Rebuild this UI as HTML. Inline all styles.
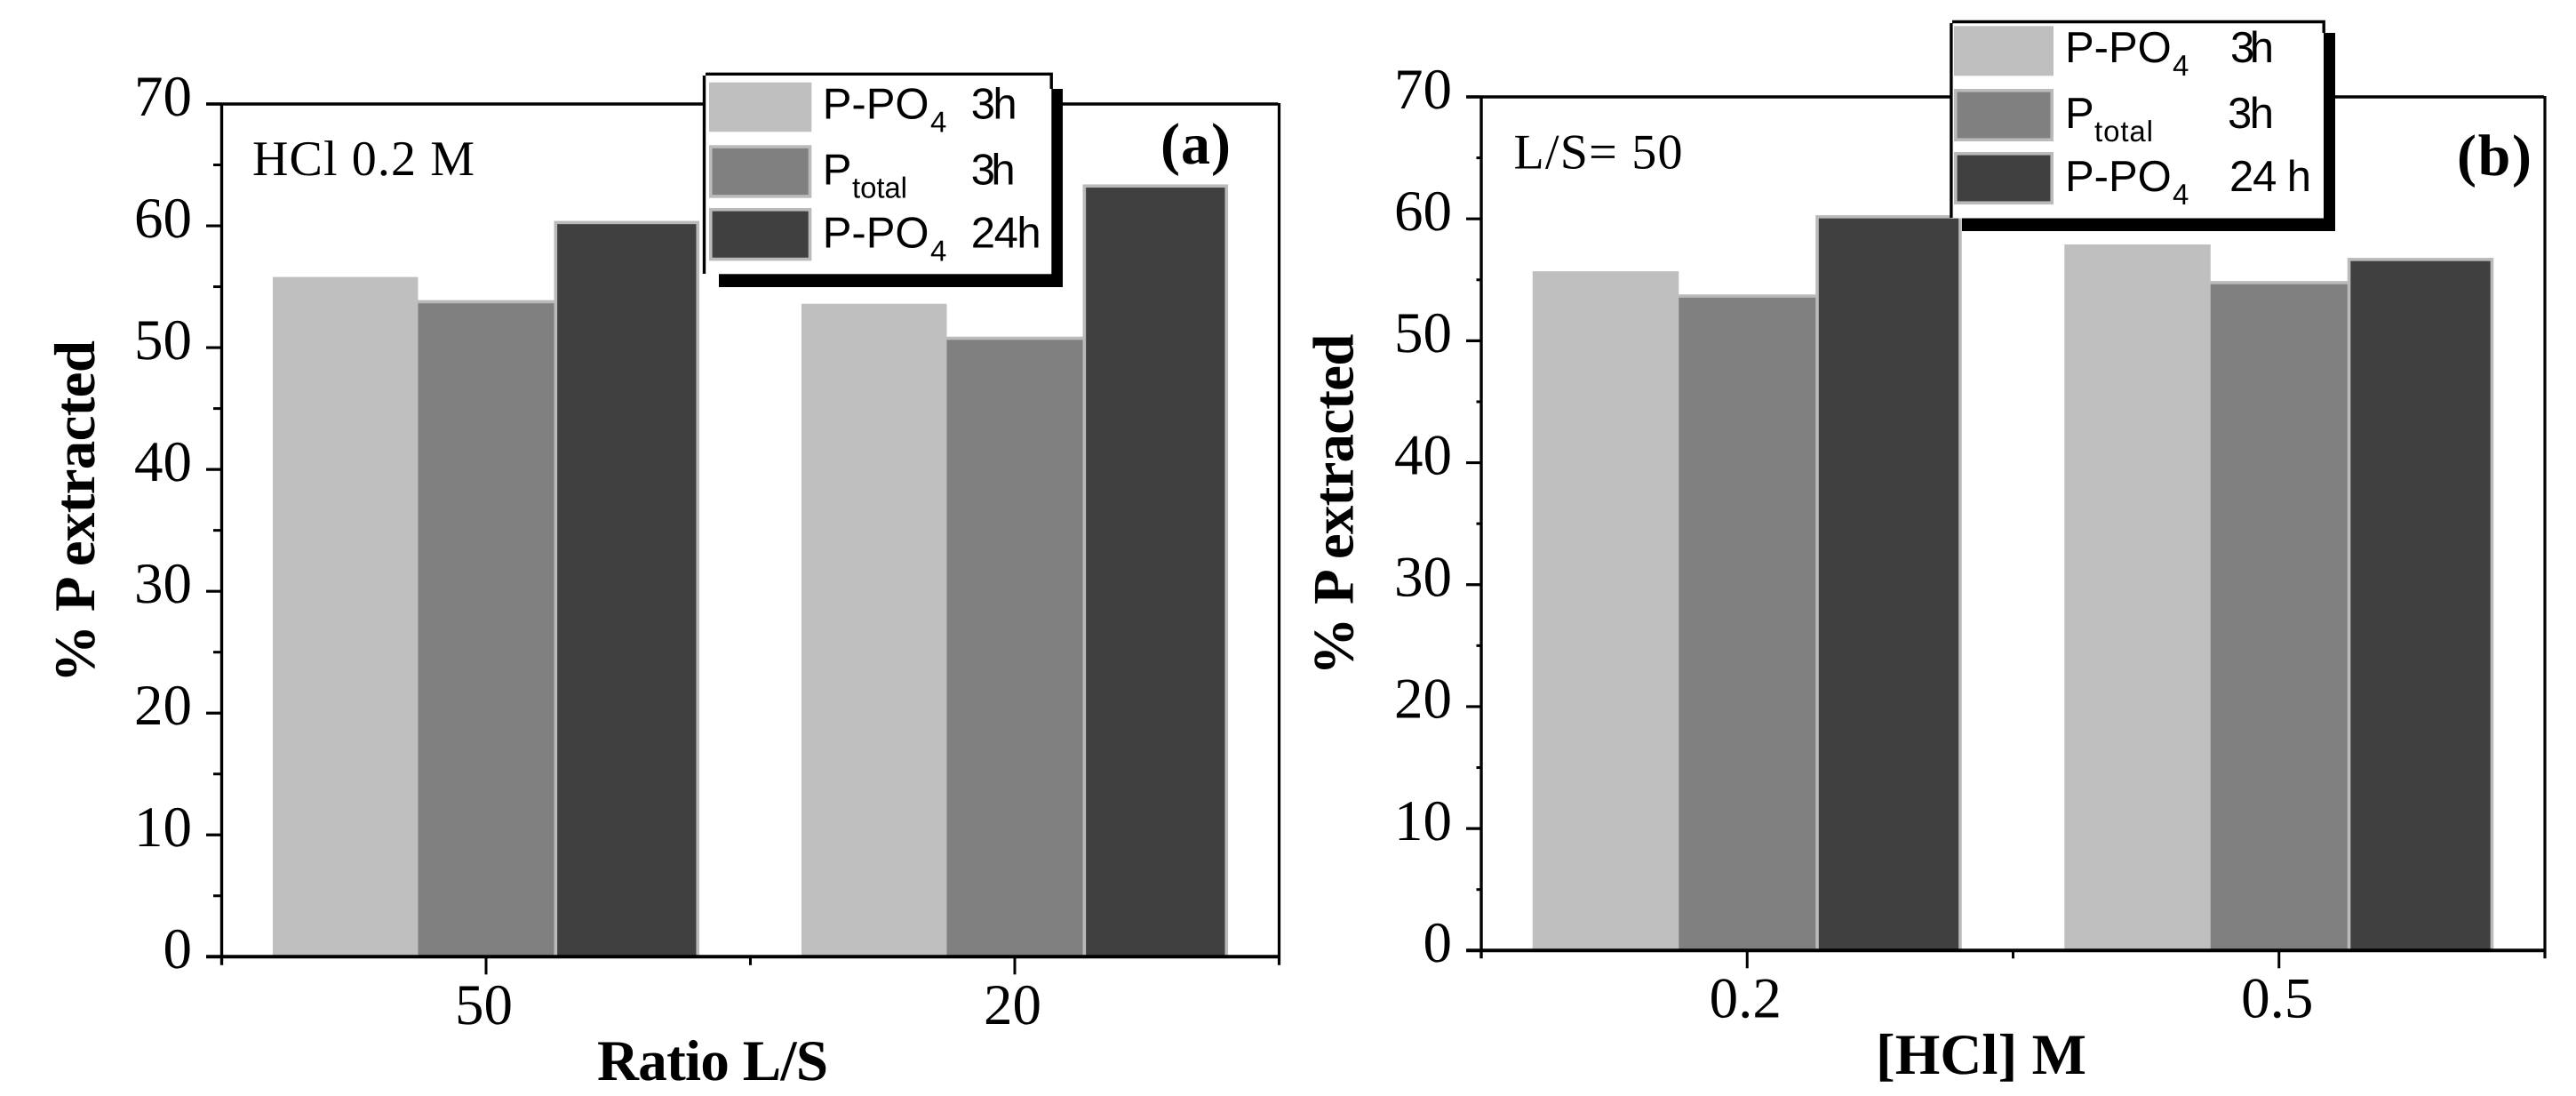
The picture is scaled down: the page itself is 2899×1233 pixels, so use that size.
<!DOCTYPE html>
<html lang="en">
<head>
<meta charset="utf-8">
<title>P extracted bar charts</title>
<style>
  html, body { margin: 0; padding: 0; background: #fff; }
  svg { display: block; text-rendering: geometricPrecision; }
  .serif { font-family: "Liberation Serif", serif; fill: #000; }
  .bold { font-weight: bold; }
  .sans { font-family: "Liberation Sans", sans-serif; fill: #000; }
  .leg { font-size: 49px; }
  .sub { font-size: 33px; }
</style>
</head>
<body>
<svg id="figure" xmlns="http://www.w3.org/2000/svg" width="2899" height="1233" viewBox="0 0 2899 1233">
  <rect x="0" y="0" width="2899" height="1233" fill="#ffffff"/>
  <g id="panel-a"></g>
  <g id="panel-b"></g>

  <!-- Panel (a) annotations -->
  <text class="serif" x="284" y="197" font-size="56" textLength="250">HCl 0.2 M</text>
  <text class="serif bold" x="1306" y="184" font-size="66" textLength="79">(a)</text>
  <text class="serif bold" x="672" y="1215" font-size="65" textLength="260">Ratio L/S</text>
  <text class="serif bold" transform="translate(106 768) rotate(-90)" font-size="65" textLength="385">% P extracted</text>

  <!-- Panel (a) legend -->
  <g>
    <rect x="809" y="100" width="387" height="223" fill="#000"/>
    <rect x="792.5" y="83.3" width="390.8" height="225" fill="#fff" stroke="none"/>
    <path d="M792.5 308 V85 M794 83.3 H1183.2 V100" fill="none" stroke="#000" stroke-width="3.4"/>
    <rect x="798" y="92.7" width="115.3" height="55.6" fill="#bfbfbf"/>
    <rect x="799.8" y="165.1" width="111.7" height="55.8" fill="#808080" stroke="#bababa" stroke-width="3.6"/>
    <rect x="799.8" y="235.8" width="111.7" height="55.8" fill="#404040" stroke="#bababa" stroke-width="3.6"/>
    <text class="sans leg" x="925.7" y="133.3">P-PO</text>
    <text class="sans sub" x="1047" y="148.3">4</text>
    <text class="sans leg" x="1092.7" y="133.3" textLength="52">3h</text>
    <text class="sans leg" x="925.7" y="207.3">P</text>
    <text class="sans sub" x="959" y="222.3" textLength="62">total</text>
    <text class="sans leg" x="1092.7" y="207.3" textLength="50">3h</text>
    <text class="sans leg" x="925.7" y="278.3">P-PO</text>
    <text class="sans sub" x="1047" y="293.3">4</text>
    <text class="sans leg" x="1092.7" y="278.3" textLength="79">24h</text>
  </g>

  <!-- Panel (b) annotations -->
  <text class="serif" x="1703.5" y="189.3" font-size="56" textLength="190">L/S= 50</text>
  <text class="serif bold" x="2765" y="197" font-size="66" textLength="84">(b)</text>
  <text class="serif bold" x="2111" y="1208" font-size="65" textLength="237">[HCl] M</text>
  <text class="serif bold" transform="translate(1522.7 759.6) rotate(-90)" font-size="65" textLength="384">% P extracted</text>

  <!-- Panel (b) legend -->
  <g>
    <rect x="2208" y="37" width="420" height="223" fill="#000"/>
    <rect x="2196" y="24.5" width="419" height="221" fill="#fff" stroke="none"/>
    <path d="M2195.9 245 V26 M2197 24.5 H2615.2 V37" fill="none" stroke="#000" stroke-width="3.4"/>
    <rect x="2199" y="29.3" width="112" height="56" fill="#bfbfbf"/>
    <rect x="2200.8" y="101.8" width="108.4" height="55.4" fill="#808080" stroke="#bababa" stroke-width="3.6"/>
    <rect x="2200.8" y="172.8" width="108.4" height="55.4" fill="#404040" stroke="#bababa" stroke-width="3.6"/>
    <text class="sans leg" x="2324" y="70">P-PO</text>
    <text class="sans sub" x="2445" y="85">4</text>
    <text class="sans leg" x="2510" y="70" textLength="49">3h</text>
    <text class="sans leg" x="2324" y="144">P</text>
    <text class="sans sub" x="2357" y="159" textLength="66">total</text>
    <text class="sans leg" x="2507" y="144" textLength="52">3h</text>
    <text class="sans leg" x="2324" y="215">P-PO</text>
    <text class="sans sub" x="2445" y="230">4</text>
    <text class="sans leg" x="2509" y="215" textLength="92">24 h</text>
  </g>
</svg>

<script>
// Chart data
const yTicks = [0, 10, 20, 30, 40, 50, 60, 70];
const yMinorTicks = [5, 15, 25, 35, 45, 55, 65];
const seriesNames = ['po4-3h', 'ptotal-3h', 'po4-24h'];

const categoriesA = ['50', '20'];
const po4ThreeHourA = [55.8, 53.6];
const ptotalThreeHourA = [53.9, 50.9];
const po4DayA = [60.4, 63.4];

const categoriesB = ['0.2', '0.5'];
const po4ThreeHourB = [55.7, 57.9];
const ptotalThreeHourB = [53.8, 54.9];
const po4DayB = [60.3, 56.8];

const SVG_NS = 'http://www.w3.org/2000/svg';
const FILLS = { 'po4-3h': '#bfbfbf', 'ptotal-3h': '#808080', 'po4-24h': '#404040' };
const BORDER = { 'po4-3h': '#bfbfbf', 'ptotal-3h': '#bababa', 'po4-24h': '#bababa' };

function line(parent, x1, y1, x2, y2, width, name) {
  const el = document.createElementNS(SVG_NS, 'line');
  el.setAttribute('x1', x1);
  el.setAttribute('y1', y1);
  el.setAttribute('x2', x2);
  el.setAttribute('y2', y2);
  el.setAttribute('stroke', '#000');
  el.setAttribute('stroke-width', width);
  
  
  parent.appendChild(el);
}

function label(parent, x, y, anchor, content, name) {
  const el = document.createElementNS(SVG_NS, 'text');
  el.setAttribute('x', x);
  el.setAttribute('y', y);
  el.setAttribute('text-anchor', anchor);
  el.setAttribute('font-size', '65');
  el.setAttribute('class', 'serif');
  el.textContent = content;
  
  
  parent.appendChild(el);
}

function bar(parent, x, width, top, bottom, series, category) {
  const inset = 1.8;
  const el = document.createElementNS(SVG_NS, 'rect');
  el.setAttribute('x', x + inset);
  el.setAttribute('y', top + inset);
  el.setAttribute('width', width - inset * 2);
  el.setAttribute('height', bottom - top - inset);
  el.setAttribute('fill', FILLS[series]);
  el.setAttribute('stroke', BORDER[series]);
  el.setAttribute('stroke-width', inset * 2);
  
  
  parent.appendChild(el);
}

function drawPanel(p) {
  const root = document.getElementById(p.id);
  const yScale = v => p.y0 - v * (p.y0 - p.y70) / 70;
  const catWidth = (p.xR - p.xL) / p.categories.length;
  const xCenter = i => p.xL + (i + 0.5) * catWidth;

  // Bars: middle series first so its neighbours overlap its borders
  const groupWidth = catWidth * 0.807;
  const barWidth = groupWidth * 0.3406;
  const pitch = (groupWidth - barWidth) / 2;
  [1, 0, 2].forEach(s => {
    p.series[s].forEach((value, i) => {
      const start = xCenter(i) - groupWidth / 2 + s * pitch;
      bar(root, start, barWidth, yScale(value), p.y0, seriesNames[s], p.categories[i]);
    });
  });

  // Axes frame
  line(root, p.xMajor, p.y70, p.xR - 1, p.y70, 3.6, 'top-axis-line');
  line(root, p.xR, p.y70 - 1, p.xR, p.y0 + p.edgeTick, 3.2, 'right-axis-line');
  line(root, p.xL, p.y70 - 1, p.xL, p.y0 + p.edgeTick, 3.4, 'y-axis-line');
  line(root, p.xMajor, p.y0, p.xR + 1, p.y0, 4, 'x-axis-line');

  // Y ticks
  yTicks.forEach(v => {
    line(root, p.xMajor, yScale(v), p.xL, yScale(v), 3.2, 'y-tick-' + v);
    label(root, p.yLabelX, yScale(v) + 12.8, 'end', String(v), 'y-tick-label-' + v);
  });
  yMinorTicks.forEach(v => {
    line(root, p.xMinor, yScale(v), p.xL, yScale(v), 3, 'y-minor-tick-' + v);
  });

  // X ticks
  p.categories.forEach((c, i) => {
    line(root, xCenter(i), p.y0, xCenter(i), p.y0 + p.majorTick, 3, 'x-tick-' + c);
    label(root, xCenter(i) + p.xLabelShift, p.xLabelY, 'middle', c, 'x-tick-label-' + c);
  });
  line(root, (p.xL + p.xR) / 2, p.y0, (p.xL + p.xR) / 2, p.y0 + p.edgeTick, 3, 'x-minor-tick');
}

drawPanel({
  id: 'panel-a', xL: 249.5, xR: 1439.5, y0: 1076.3, y70: 117,
  xMajor: 232, xMinor: 240, yLabelX: 216, xLabelY: 1152, xLabelShift: -2.5,
  majorTick: 20, edgeTick: 9.5,
  categories: categoriesA,
  series: [po4ThreeHourA, ptotalThreeHourA, po4DayA]
});

drawPanel({
  id: 'panel-b', xL: 1667, xR: 2864, y0: 1069.3, y70: 109,
  xMajor: 1650, xMinor: 1661.5, yLabelX: 1634, xLabelY: 1144.5, xLabelShift: -2,
  majorTick: 20, edgeTick: 9,
  categories: categoriesB,
  series: [po4ThreeHourB, ptotalThreeHourB, po4DayB]
});
</script>
</body>
</html>
